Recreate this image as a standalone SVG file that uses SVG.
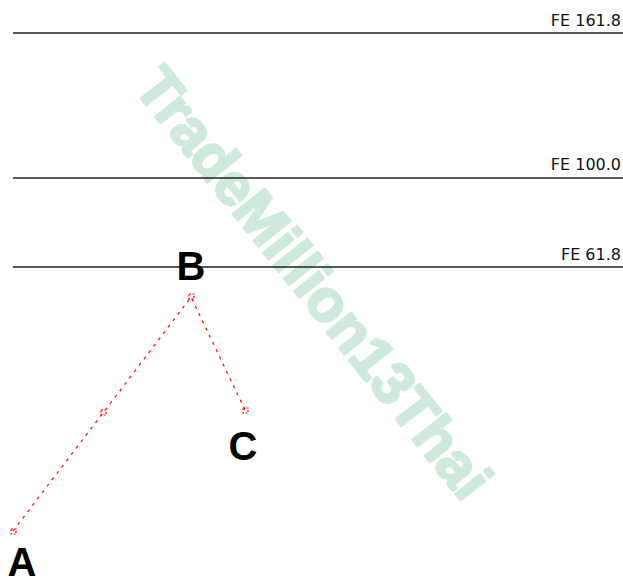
<svg xmlns="http://www.w3.org/2000/svg" width="623" height="580" viewBox="0 0 623 580">
<style>
.lvl{stroke:#222;stroke-width:1.5}
.lbl{font-family:"DejaVu Sans","Liberation Sans",sans-serif;font-size:16px;fill:#111;text-anchor:end}
.pt{font-family:"Liberation Sans",Arial,sans-serif;font-weight:bold;font-size:40px;fill:#000;text-anchor:middle}
.wm{font-family:"Liberation Sans",Arial,sans-serif;font-weight:bold;font-size:59px;fill:#cdeadb;stroke:#cdeadb;stroke-width:2.5;stroke-linejoin:round;text-anchor:middle}
.wave{stroke:#ff0000;stroke-width:1.2;stroke-dasharray:3 5;fill:none}
.mk{stroke:#ff0000;stroke-width:1.2;stroke-dasharray:2 1.5;fill:none}
</style>
<rect width="623" height="580" fill="#fff"/>
<text class="wm" x="310" y="286" transform="rotate(51.5 310 286)" dominant-baseline="middle">TradeMillion13Thai</text>
<g id="levels">
<line class="lvl" x1="13" y1="33" x2="623" y2="33"/>
<line class="lvl" x1="13" y1="178" x2="623" y2="178"/>
<line class="lvl" x1="13" y1="267" x2="623" y2="267"/>
<text class="lbl" x="621" y="26">FE 161.8</text>
<text class="lbl" x="621" y="170">FE 100.0</text>
<text class="lbl" x="621" y="260">FE 61.8</text>
</g>
<g id="connectors">
<polyline class="wave" points="13,531 103,413 191,297 245,410"/>
</g>
<g id="A"><rect class="mk" x="11" y="529" width="5" height="5"/><text class="pt" x="22" y="576">A</text></g>
<g id="M"><rect class="mk" x="101" y="410" width="5" height="5"/></g>
<g id="B"><rect class="mk" x="189" y="294" width="5" height="5"/><text class="pt" x="191" y="280">B</text></g>
<g id="C"><rect class="mk" x="243" y="408" width="5" height="5"/><text class="pt" x="243" y="460">C</text></g>
</svg>
